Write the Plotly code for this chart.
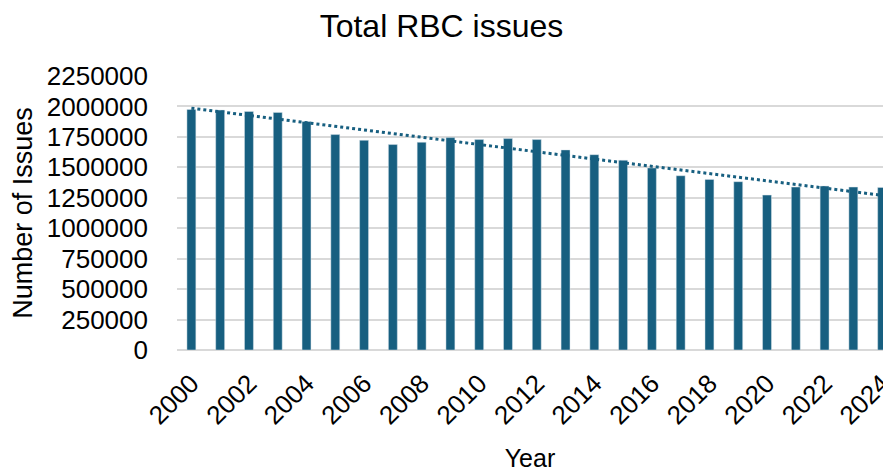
import numpy as np
import plotly.graph_objects as go

# Annual totals of RBC issues
years = list(range(2000, 2025))
issues = [1975000, 1970000, 1959000, 1951000, 1876000, 1769000, 1722000, 1687000,
          1706000, 1744000, 1728000, 1736000, 1728000, 1643000, 1604000, 1558000,
          1495000, 1431000, 1401000, 1382000, 1272000, 1338000, 1346000, 1338000,
          1335000]

y_ticks = list(range(0, 2250001, 250000))

# Linear trend fitted to the yearly totals
coef = np.polyfit(years, issues, 1)
trend = np.polyval(coef, years)

BLUE = "#175f80"
FONT = "Liberation Sans, Arial, sans-serif"

fig = go.Figure()
fig.add_trace(go.Bar(
    x=years, y=issues, width=0.31,
    marker=dict(color=BLUE, line=dict(color="rgba(220,230,235,0.8)", width=0.6)),
    showlegend=False,
))
fig.add_trace(go.Scatter(
    x=years, y=trend, mode="lines",
    line=dict(color=BLUE, width=3, dash="dot"),
    showlegend=False,
))

fig.update_layout(
    width=883, height=473,
    margin=dict(l=177, r=0, t=76, b=123),
    paper_bgcolor="white", plot_bgcolor="white",
    font=dict(family=FONT, color="black", size=26),
    title=dict(text="Total RBC issues", x=0.5, xanchor="center", y=0.945,
               yanchor="middle", font=dict(size=32, family=FONT)),
)
fig.update_xaxes(
    range=[1999.5, 2024.03], tickmode="linear", tick0=2000, dtick=2,
    tickangle=-45, showgrid=False, zeroline=False, showline=False,
    ticks="", tickfont=dict(size=26), ticklabelstandoff=12,
    ticklabeloverflow="allow", automargin=False,
    title=dict(text="Year", font=dict(size=25), standoff=20),
)
fig.update_yaxes(
    range=[0, 2250000], tickvals=y_ticks, ticktext=[str(v) for v in y_ticks],
    showgrid=True, gridcolor="#d9d9d9", gridwidth=1.5,
    zeroline=True, zerolinecolor="#d9d9d9", zerolinewidth=1.5,
    ticks="", tickfont=dict(size=26), ticklabelstandoff=28, automargin=False,
    title=dict(text="Number of Issues", font=dict(size=27), standoff=6),
)

fig.write_html("out.html")
